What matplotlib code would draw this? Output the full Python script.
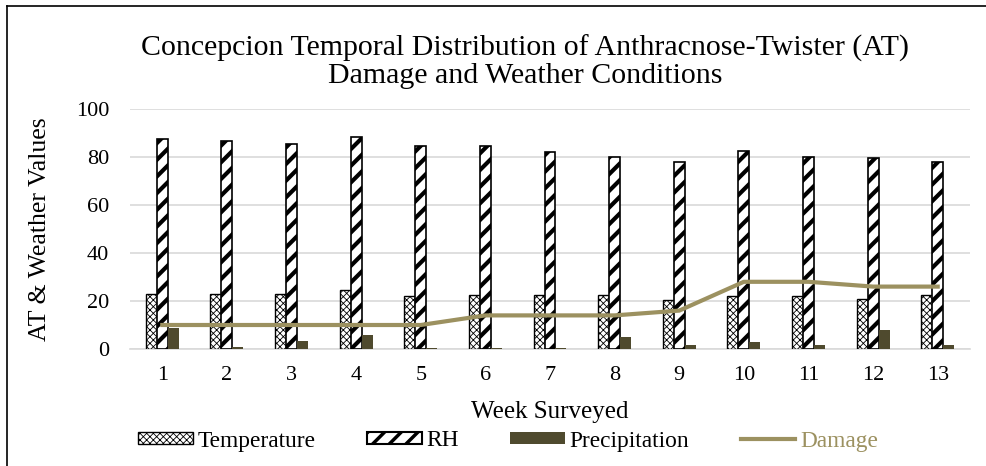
import matplotlib.pyplot as plt
import matplotlib.lines as mlines
import numpy as np

plt.rcParams['font.family'] = ['Liberation Serif', 'DejaVu Serif']
plt.rcParams['hatch.linewidth'] = 0.6

# data
weeks = ['1', '2', '3', '4', '5', '6', '7', '8', '9', '10', '11', '12', '13']
temperature = [23, 23, 23, 24.5, 22, 22.5, 22.5, 22.5, 20.5, 22, 22, 21, 22.5]
rh = [87.5, 86.5, 85.5, 88.5, 84.5, 84.5, 82, 80, 78, 82.5, 80, 79.5, 78]
precipitation = [8.8, 1, 3.5, 6, 0.5, 0.5, 0.5, 5, 1.5, 3, 1.5, 8, 1.5]
damage = [10, 10, 10, 10, 10, 14, 14, 14, 16, 28, 28, 26, 26]

fig = plt.figure(figsize=(9.86, 4.66), dpi=100)
ax = fig.add_axes([130 / 986, 1 - 349 / 466, 840 / 986, 240 / 466])

x = np.arange(1, len(weeks) + 1)
w = 0.17

b1 = ax.bar(x - w, temperature, w, color='white', edgecolor='black', hatch='xxxxx', linewidth=1.0, zorder=3)
b2 = ax.bar(x, rh, w, color='white', edgecolor='black', hatch='//', linewidth=1.2, zorder=3)
for p in b2:
    p.set_hatch_linewidth(3.0)
b3 = ax.bar(x + w, precipitation, w, color='#4f4a2e', zorder=3)
ln, = ax.plot(x, damage, color='#9c9160', linewidth=3.0, zorder=4)

ax.set_xlim(0.5, 13.5)
ax.set_ylim(0, 100)
ax.set_yticks(range(0, 101, 20))
ax.set_xticks(x)
ax.set_xticklabels(weeks)
ax.tick_params(axis='both', length=0, labelsize=16)
ax.tick_params(axis='x', pad=12)
ax.tick_params(axis='y', pad=15)
ax.grid(axis='y', color='#d9d9d9', linewidth=1.2, zorder=0)
for s in ['top', 'right', 'left']:
    ax.spines[s].set_visible(False)
ax.spines['bottom'].set_color('#d9d9d9')
ax.spines['bottom'].set_linewidth(1.2)

ax.set_ylabel('AT & Weather Values', fontsize=18.5)
ax.yaxis.set_label_coords((51 - 130) / 840, 0.5)
ax.set_xlabel('Week Surveyed', fontsize=18)
ax.xaxis.set_label_coords(0.5, (349 - 401) / 240)
fig.text(525 / 986, 1 - 62 / 466, 'Concepcion Temporal Distribution of Anthracnose-Twister (AT)\nDamage and Weather Conditions',
         ha='center', va='center', fontsize=21.5, linespacing=1.05)

leg = fig.legend([b1, b2, b3, ln], ['Temperature', 'RH', 'Precipitation', 'Damage'],
                 loc='center', bbox_to_anchor=(508 / 986, 1 - 441 / 466), ncol=4, frameon=False,
                 fontsize=16.8, columnspacing=2.2, handlelength=2.35, handleheight=0.45,
                 handletextpad=0.2, borderpad=0)
leg.get_texts()[3].set_color('#9c9160')
leg.legend_handles[1].set_hatch_linewidth(2.5)
leg.legend_handles[1].set_linewidth(1.5)

# chart border
fig.add_artist(mlines.Line2D([7 / 986, 7 / 986], [0, 1 - 6 / 466], color='black', linewidth=1.2))
fig.add_artist(mlines.Line2D([7 / 986, 1], [1 - 6 / 466, 1 - 6 / 466], color='black', linewidth=1.2))

fig.savefig('out.png', dpi=100)
